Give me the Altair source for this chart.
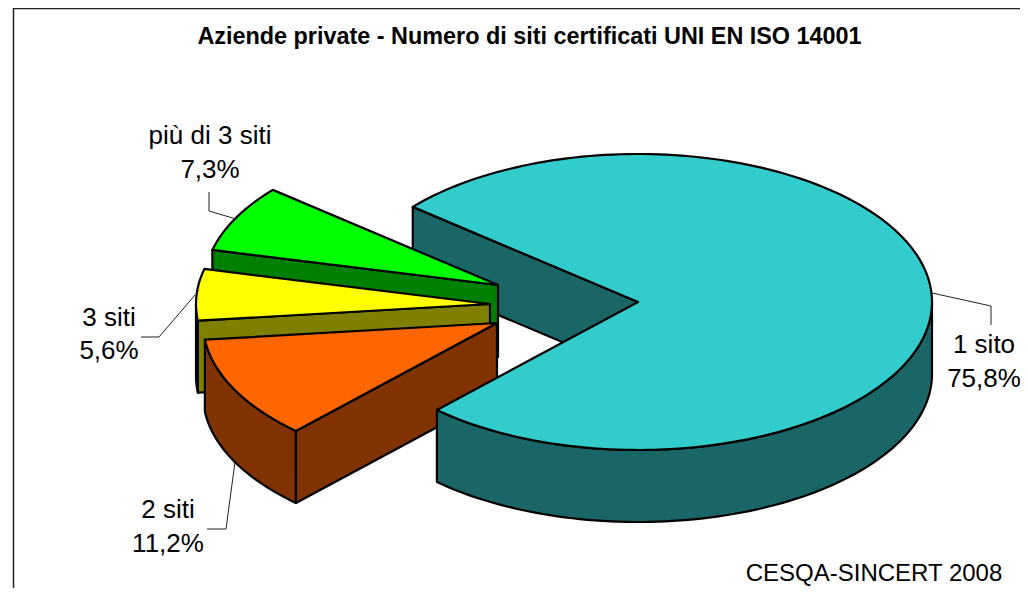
import math
import altair as alt

# --- data ---
categories = ["1 sito", "2 siti", "3 siti", "più di 3 siti"]
shares = [75.8, 11.2, 5.6, 7.3]
share_labels = ["75,8%", "11,2%", "5,6%", "7,3%"]
top_colors = ["#33CCCC", "#FF6600", "#FFFF00", "#00FF00"]
wall_colors = ["#1A6666", "#803300", "#808000", "#008000"]
title_text = "Aziende private - Numero di siti certificati UNI EN ISO 14001"
source_text = "CESQA-SINCERT 2008"

# --- layout (page pixels) ---
W, H = 1012, 580
MARGIN = 8
RX, RY, DEPTH = 294, 148, 72
START = 310.0
APEX = [(638, 302), (497, 323), (490, 304), (498, 285)]
FONT = "Liberation Sans"


def P(x, y):
    return [x - MARGIN, y - MARGIN]


def rim(c, a, drop=0):
    r = math.radians(a)
    return (c[0] + RX * math.sin(r), c[1] - RY * math.cos(r) + drop)


def arc(c, a0, a1, drop=0):
    n = max(2, int(abs(a1 - a0) / 1.5))
    return [rim(c, a0 + (a1 - a0) * i / n, drop) for i in range(n + 1)]


def poly(part, pts):
    ring = [P(*p) for p in pts]
    ring.append(ring[0])
    return {"type": "Feature", "properties": {"part": part},
            "geometry": {"type": "Polygon", "coordinates": [ring]}}


def top(i, a0, a1):
    return poly(f"t{i}", [APEX[i]] + arc(APEX[i], a0, a1))


def edge_wall(i, a):
    c = APEX[i]
    e = rim(c, a)
    return poly(f"w{i}", [c, e, (e[0], e[1] + DEPTH), (c[0], c[1] + DEPTH)])


def outer_wall(i, a0, a1):
    up = arc(APEX[i], a0, a1)
    down = arc(APEX[i], a1, a0, DEPTH)
    return poly(f"w{i}", up + down)


total = sum(shares)
angles = []
cur = START
for s in shares:
    nxt = cur + 360.0 * s / total
    angles.append((cur, nxt))
    cur = nxt
a = angles

features = [
    edge_wall(0, a[0][0]),
    edge_wall(3, a[3][0]),
    top(3, a[3][0], a[3][1]),
    edge_wall(2, a[2][0]),
    outer_wall(2, a[2][0], 630),
    top(2, a[2][0], a[2][1]),
    outer_wall(1, a[1][0], a[1][1]),
    edge_wall(1, a[1][0]),
    top(1, a[1][0], a[1][1]),
    outer_wall(0, 450, a[0][1]),
    top(0, a[0][0], a[0][1]),
]

domain = [f"t{i}" for i in range(4)] + [f"w{i}" for i in range(4)]
color_range = top_colors + wall_colors


def line(pts):
    return {"type": "Feature", "properties": {},
            "geometry": {"type": "LineString", "coordinates": [P(*p) for p in pts]}}


leaders = [
    line([(932, 293), (991, 306), (991, 325)]),
    line([(235, 462), (226, 529), (207, 529)]),
    line([(195, 295), (159, 337), (141, 337)]),
    line([(236, 219), (209, 211), (209, 192)]),
]
frame = [line([(1028, 8.5), (13.5, 8.5), (13.5, 596)])]

proj = alt.Projection(type="identity", scale=1, translate=[0, 0])

pie = alt.Chart(alt.Data(values=features)).mark_geoshape(
    stroke="black", strokeWidth=2.2, strokeJoin="round"
).encode(
    fill=alt.Fill("properties.part:N", scale=alt.Scale(domain=domain, range=color_range), legend=None)
).project(**proj.to_dict())

leader_layer = alt.Chart(alt.Data(values=leaders)).mark_geoshape(
    filled=False, stroke="#222222", strokeWidth=1
).project(**proj.to_dict())

frame_layer = alt.Chart(alt.Data(values=frame)).mark_geoshape(
    filled=False, stroke="#222222", strokeWidth=1.5
).project(**proj.to_dict())


def text(s, cx, base, size=26, bold=False):
    return alt.Chart(alt.Data(values=[{"t": s}])).mark_text(
        font=FONT, fontSize=size, fontWeight="bold" if bold else "normal",
        align="center", baseline="alphabetic", color="black"
    ).encode(x=alt.value(cx - MARGIN), y=alt.value(base - MARGIN), text="t:N")


label_pos = [(984, 353, 387), (168, 518, 552), (109, 326, 359), (210, 144, 178)]
texts = [text(title_text, 529.5, 44, 23.4, True), text(source_text, 874, 581, 24)]
for name, pct, (cx, b1, b2) in zip(categories, share_labels, label_pos):
    texts.append(text(name, cx, b1))
    texts.append(text(pct, cx, b2))

chart = alt.layer(frame_layer, pie, leader_layer, *texts).properties(
    width=W, height=H, padding=0, autosize=alt.AutoSizeParams(type="none"), background="white"
).configure_view(stroke=None)

chart.save("out.html", embed_options={"renderer": "svg", "actions": False})
